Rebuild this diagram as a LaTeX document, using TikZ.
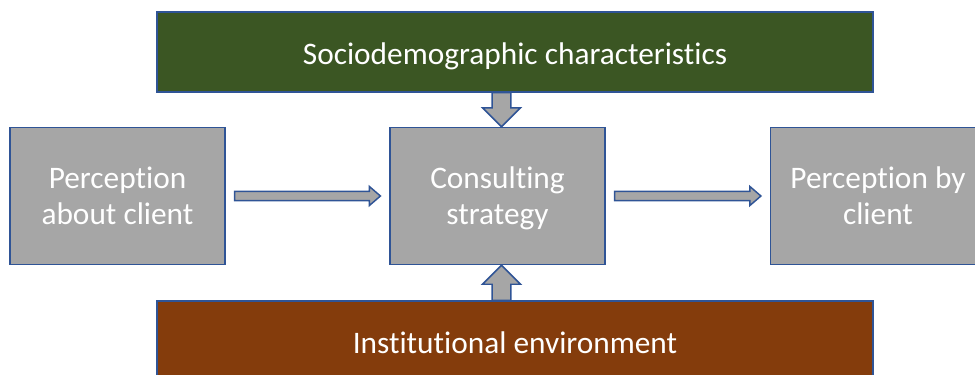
\documentclass[tikz,border=0pt]{standalone}
\usepackage{fontspec}
\setmainfont{Carlito}[Ligatures=NoCommon]
\usetikzlibrary{calc}
\definecolor{sociogreen}{RGB}{59,86,35}
\definecolor{instbrown}{RGB}{132,60,12}
\definecolor{boxgray}{RGB}{166,166,166}
\definecolor{edgeblue}{RGB}{47,84,150}

\tikzset{
  blockarrow/.style n args={5}{draw=edgeblue, fill=boxgray, line width=1.1pt, to path={
    ($(\tikztostart)!#1!(\tikztotarget)!#4!90:(\tikztotarget)$)
    -- ($(\tikztotarget)!#3!(\tikztostart)!#4!-90:(\tikztostart)$)
    -- ($(\tikztotarget)!#3!(\tikztostart)!#5!-90:(\tikztostart)$)
    -- ($(\tikztotarget)!#2!(\tikztostart)$)
    -- ($(\tikztotarget)!#3!(\tikztostart)!#5!90:(\tikztostart)$)
    -- ($(\tikztotarget)!#3!(\tikztostart)!#4!90:(\tikztostart)$)
    -- ($(\tikztostart)!#1!(\tikztotarget)!#4!-90:(\tikztotarget)$)
    -- cycle}},
  hblock/.style={blockarrow={6.75pt}{6.75pt}{15pt}{3.4pt}{7.1pt}},
  vblock/.style={blockarrow={0pt}{0pt}{14.25pt}{7.1pt}{14.25pt}},
  graybox/.style={fill=boxgray,minimum width=161pt,minimum height=102.75pt,
    execute at begin node={},execute at end node={},text height=49.5pt,text depth=6.5pt},
}

\begin{document}
\begin{tikzpicture}[x=0.75pt,y=-0.75pt]
\useasboundingbox (0,0) rectangle (975,375);
\begin{scope}[every node/.style={rectangle,draw=edgeblue,line width=1.1pt,text=white,align=center,
  font=\fontsize{23.5}{27}\selectfont,execute at begin node=\rule{0pt}{24pt},
  execute at end node=\rule[-5pt]{0pt}{5pt}}]
\node[fill=sociogreen,minimum width=537pt,minimum height=60pt] (soc) at (515,52) {Sociodemographic characteristics};
\node[graybox] (pac) at (117.5,196) {Perception\\about client};
\node[graybox] (cs) at (497.5,196) {Consulting\\strategy};
\node[graybox] (pbc) at (878,196) {Perception by\\client};
\node[fill=instbrown,minimum width=537pt,minimum height=60pt] (ie) at (515,341) {Institutional environment};
\end{scope}

\path (pac.east) edge[hblock] (cs.west);
\path (cs.east) edge[hblock] (pbc.west);
\path ([xshift=3pt]cs.north |- soc.south) edge[vblock] ([xshift=3pt]cs.north);
\path ([xshift=3pt]cs.south |- ie.north) edge[vblock] ([xshift=3pt]cs.south);
\end{tikzpicture}
\end{document}
